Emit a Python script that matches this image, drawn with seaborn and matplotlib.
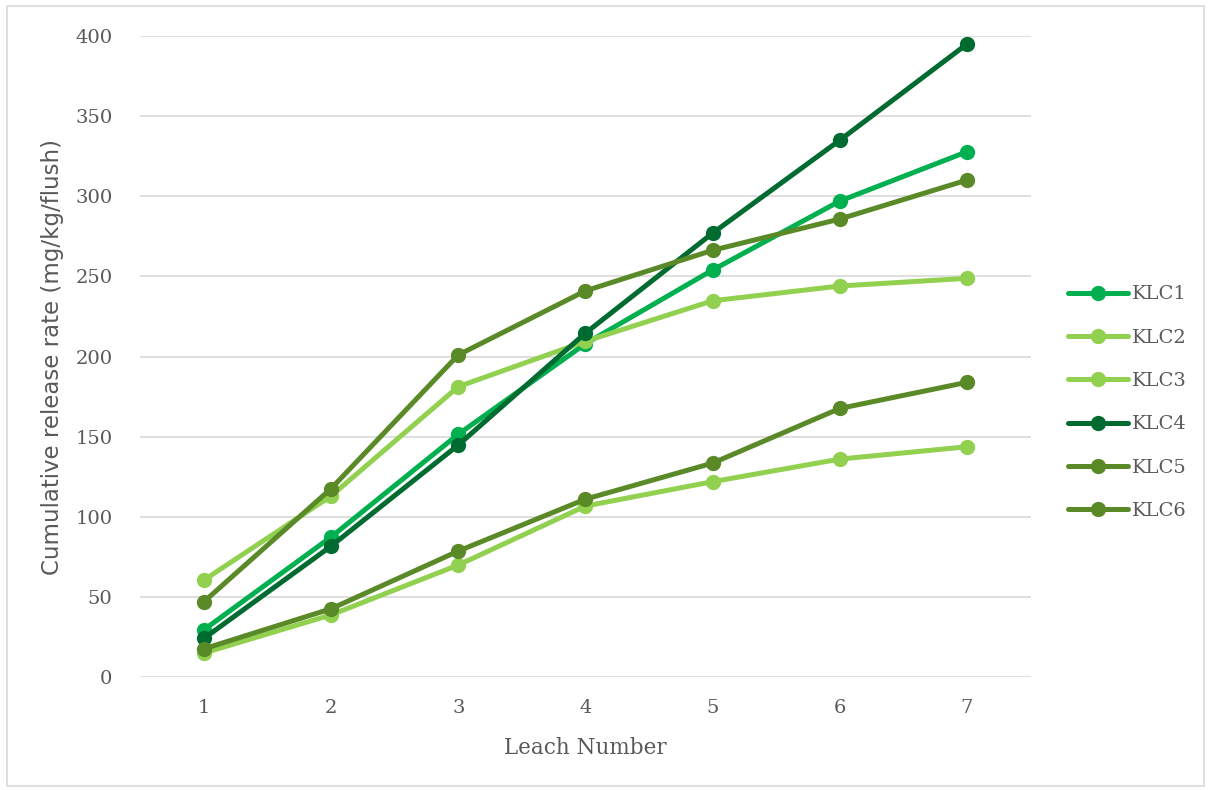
import pandas as pd
import matplotlib.pyplot as plt
import seaborn as sns
from matplotlib.patches import Rectangle

# Leach numbers and cumulative release per sample
leach = [1, 2, 3, 4, 5, 6, 7]
klc1 = [29.5, 87.4, 151.5, 208.0, 254.0, 297.0, 327.8]
klc2 = [60.5, 113.0, 181.2, 209.5, 234.8, 244.0, 248.8]
klc3 = [15.0, 38.8, 69.9, 106.7, 121.9, 136.0, 143.7]
klc4 = [24.1, 81.7, 144.8, 214.6, 277.0, 335.0, 395.0]
klc5 = [17.6, 42.6, 78.6, 111.0, 133.5, 167.6, 183.9]
klc6 = [47.0, 117.6, 201.0, 241.0, 266.3, 285.8, 310.1]

series = {'KLC1': klc1, 'KLC2': klc2, 'KLC3': klc3,
          'KLC4': klc4, 'KLC5': klc5, 'KLC6': klc6}
colors = {'KLC1': '#00B050', 'KLC2': '#92D050', 'KLC3': '#92D050',
          'KLC4': '#006B30', 'KLC5': '#5A8A28', 'KLC6': '#5A8A28'}

# long format for seaborn
rows = []
for name, vals in series.items():
    for x, v in zip(leach, vals):
        rows.append({'Leach': x, 'Release': v, 'Sample': name})
df = pd.DataFrame(rows)

sns.set_style('white')
fig = plt.figure(figsize=(12.11, 7.90), dpi=100)
ax = fig.add_axes([0.1159, 0.1430, 0.7351, 0.8114])

sns.lineplot(data=df, x='Leach', y='Release', hue='Sample', palette=colors,
             marker='o', markersize=11, markeredgewidth=0, linewidth=3.6,
             ax=ax, legend=True)

ax.set_xlim(0.5, 7.5)
ax.set_ylim(0, 400)
ax.set_xticks(leach)
ax.set_yticks(range(0, 401, 50))
ax.yaxis.grid(True, color='#D9D9D9', linewidth=1.2)
ax.set_axisbelow(True)
for s in ax.spines.values():
    s.set_visible(False)
ax.tick_params(axis='both', length=0, labelsize=14, labelcolor='#595959')
ax.tick_params(axis='y', pad=20)
ax.tick_params(axis='x', pad=16)
for lbl in ax.get_xticklabels() + ax.get_yticklabels():
    lbl.set_family('DejaVu Serif')

ax.set_xlabel('Leach Number', fontsize=15.5, color='#595959',
              family='DejaVu Serif', labelpad=14)
ax.set_ylabel('Cumulative release rate (mg/kg/flush)', fontsize=16.5,
              color='#595959', family='DejaVu Sans', labelpad=8)

leg = ax.legend(loc='center left', bbox_to_anchor=(1.042, 0.428), frameon=False,
                fontsize=14, handlelength=3.1, handletextpad=0.2,
                labelspacing=1.3, borderaxespad=0, borderpad=0)
for t in leg.get_texts():
    t.set_color('#595959')
    t.set_family('DejaVu Serif')

# light border around the chart area
fig.patches.append(Rectangle((0.006, 0.005), 0.988, 0.988, transform=fig.transFigure,
                             fill=False, edgecolor='#D9D9D9', linewidth=1.2))

plt.savefig('out.png', dpi=100)
